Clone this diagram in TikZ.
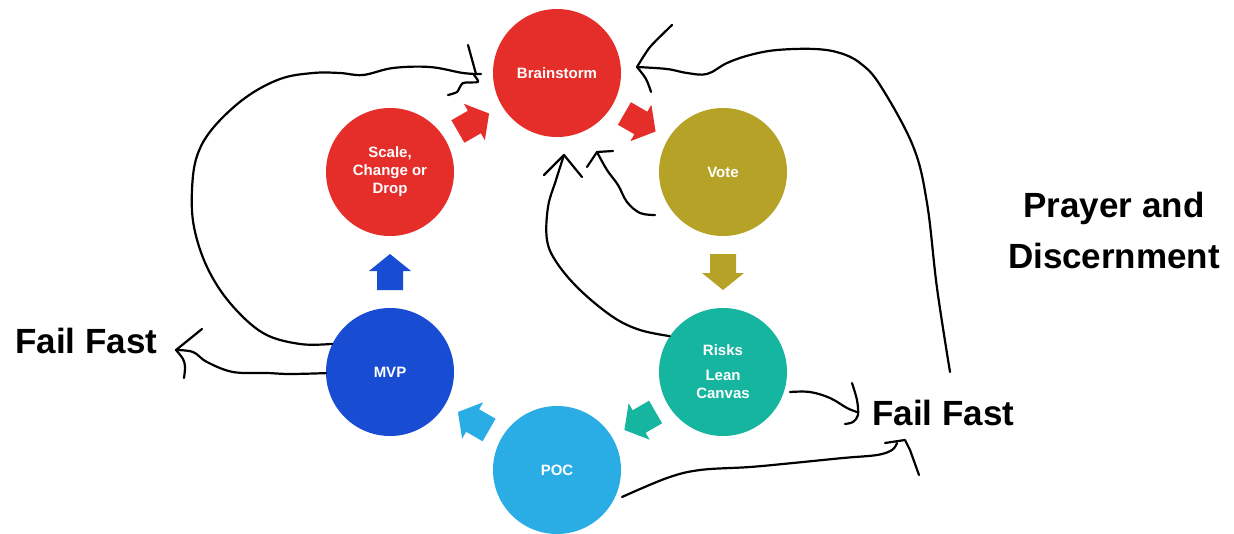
\documentclass[tikz,border=0pt]{standalone}
\usepackage{fontspec}
\setmainfont{Liberation Sans}
\usetikzlibrary{calc}
\definecolor{cred}{HTML}{E52D2A}
\definecolor{colive}{HTML}{B5A227}
\definecolor{cteal}{HTML}{16B5A0}
\definecolor{clblue}{HTML}{2AADE4}
\definecolor{cblue}{HTML}{184CD2}
\newcommand\blockarrow[4]{%
  \fill[#4, shift={($(#1)!0.5!(#2)$)}, rotate=#3]
    (-18,-13) -- (1,-13) -- (1,-21) -- (18,0) -- (1,21) -- (1,13) -- (-18,13) -- cycle;}
\begin{document}
\begin{tikzpicture}[x=1pt,y=-1pt,
  stage/.style={circle, minimum size=128pt, inner sep=0pt, text=white,
    font=\bfseries\fontsize{15}{18}\selectfont, align=center},
  hand/.style={line width=2.2pt, line cap=round, line join=round},
  big/.style={font=\bfseries\fontsize{35}{42}\selectfont, inner sep=0pt}]
\useasboundingbox[fill=white] (0,0) rectangle (1234,533);

% stages
\node[stage, fill=cred]   (brain) at (557,73)  {Brainstorm};
\node[stage, fill=colive] (vote)  at (723,172) {Vote};
\node[stage, fill=cteal]  (risks) at (723,372) {Risks\\[7pt]Lean\\Canvas};
\node[stage, fill=clblue] (poc)   at (557,470) {POC};
\node[stage, fill=cblue]  (mvp)   at (390,372) {MVP};
\node[stage, fill=cred]   (scale) at (390,172) {Scale,\\Change or\\Drop};

% block arrows
\blockarrow{scale}{brain}{30}{cred}
\blockarrow{brain}{vote}{-30}{cred}
\blockarrow{vote}{risks}{-90}{colive}
\blockarrow{risks}{poc}{210}{cteal}
\blockarrow{poc}{mvp}{150}{clblue}
\blockarrow{mvp}{scale}{90}{cblue}

% texts
\node[big, anchor=base west] (ffl) at (15,353) {Fail Fast};
\node[big, anchor=base west] (ffr) at (872,425) {Fail Fast};
\node[big, anchor=base] (pr1) at (1114,217) {Prayer and};
\node[big, anchor=base] (pr2) at (1114,268) {Discernment};

% hand-drawn connectors
\coordinate (tipA) at (481,74);
\coordinate (tipB) at (176,350);
\coordinate (tipC) at (564,155);
\coordinate (startD) at (655,215);
\coordinate (tipD) at (597,152);
\coordinate (startE) at (950,372);
\coordinate (tipE) at (637,67);
\coordinate (startF) at (790,392);
\coordinate (tipF) at (857,412);
\coordinate (startG) at (622,497);
\coordinate (tipG) at (897,443);

% A: MVP -> Brainstorm (left loop)
\draw[hand] plot[smooth, tension=0.6] coordinates {(mvp.154) (300,344) (263,333) (230,303) (207,267) (194,227) (192,190) (197,156) (213,128) (245,98) (280,79) (313,73) (340,73) (363,75) (393,68) (430,67) (463,73) (tipA)};
\draw[hand] (468,45) -- (476,74);
\draw[hand] plot[smooth, tension=0.4] coordinates {(474,75) (478,82) (463,83) (457,92) (448,95)};

% B: MVP -> Fail Fast (left)
\draw[hand] plot[smooth, tension=0.6] coordinates {(mvp.181) (290,374) (267,373) (233,372) (207,362) (193,352) (tipB)};
\draw[hand] (202,329) -- (tipB);
\draw[hand] plot[smooth, tension=0.6] coordinates {(tipB) (183,359) (185,367) (184,378)};

% C: Risks -> Brainstorm
\draw[hand] plot[smooth, tension=0.6] coordinates {(risks.146) (640,330) (613,317) (580,290) (557,263) (547,240) (548,207) (556,180) (tipC)};
\draw[hand] (544,175) -- (tipC) -- (582,177);

% D: Vote -> Brainstorm
\draw[hand] plot[smooth, tension=0.6] coordinates {(startD) (640,213) (627,202) (618,185) (607,170) (tipD)};
\draw[hand] (587,167) -- (tipD) -- (613,151);

% E: right big loop -> Brainstorm
\draw[hand] plot[smooth, tension=0.6] coordinates {(startE) (937,288) (927,203) (913,146) (880,85) (860,63) (840,53) (815,49) (777,50) (750,55) (727,63) (707,74) (687,73) (667,69) (tipE)};
\draw[hand] plot[smooth, tension=0.4] coordinates {(672,25) (650,47) (tipE)};
\draw[hand] plot[smooth, tension=0.6] coordinates {(tipE) (646,79) (651,92)};

% F: Risks -> Fail Fast (right)
\draw[hand] plot[smooth, tension=0.6] coordinates {(startF) (810,392) (830,398) (847,408) (tipF)};
\draw[hand] plot[smooth, tension=0.5] coordinates {(852,383) (857,400) (858,415) (853,422) (845,424)};

% G: POC -> Fail Fast (right)
\draw[hand] plot[smooth, tension=0.6] coordinates {(startG) (667,478) (700,470) (750,467) (793,463) (843,458) (877,455) (892,450) (tipG)};
\draw[hand] (885,443) -- (905,440) -- (910,450) -- (919,475);
\end{tikzpicture}
\end{document}
